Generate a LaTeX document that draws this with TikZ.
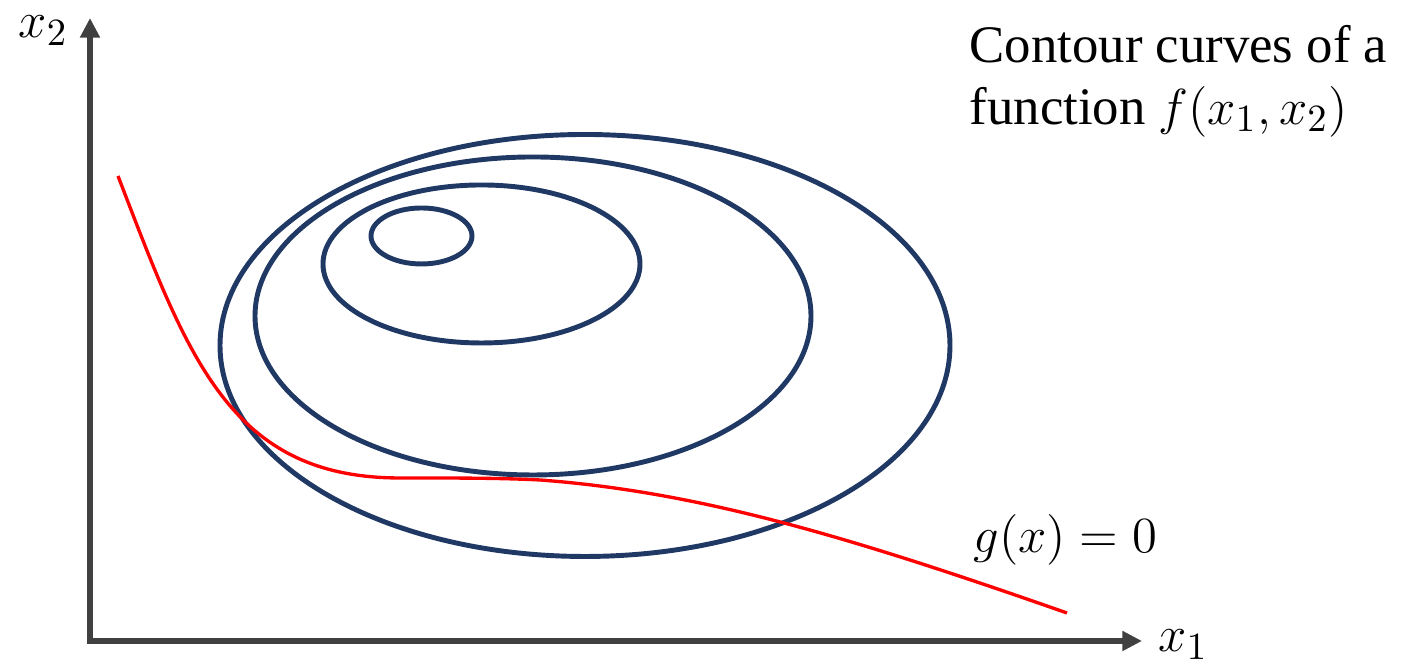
\documentclass[tikz,border=0pt]{standalone}
\usepackage{fontspec}
\setmainfont{Liberation Serif}
\usetikzlibrary{arrows.meta,positioning}
\definecolor{navy}{HTML}{203864}
\definecolor{axisgray}{HTML}{404040}

\begin{document}
\begin{tikzpicture}[x=0.01cm,y=0.01cm,axis/.style={draw=axisgray,line width=1.45pt,{Triangle[length=5.6pt,width=5.4pt]}-{Triangle[length=5.6pt,width=5.4pt]}},contour/.style={draw=navy,line width=1.4pt},gline/.style={draw=red,line width=0.95pt},lbl/.style={inner sep=0pt,font=\fontsize{15}{17.4}\selectfont}]
\useasboundingbox (0,0) rectangle (1402,662);
% axes
\coordinate (O) at (90,21);
\coordinate (xend) at (1142,21);
\coordinate (yend) at (90,644);
\draw[axis] (yend) |- (xend);
\node[lbl,anchor=base west] (xone) at (1158,10) {$x_1$};
\node[lbl,anchor=base west] (xtwo) at (18,624) {$x_2$};
% contour curves of f
\draw[contour] (585,316.5) ellipse [x radius=365,y radius=211];
\draw[contour] (533,346) ellipse [x radius=278,y radius=159];
\draw[contour] (481.5,398) ellipse [x radius=158.5,y radius=79];
\draw[contour] (421.5,426) ellipse [x radius=50.5,y radius=28];
% constraint g(x)=0
\coordinate (gstart) at (118,486);
\coordinate (gflat) at (400,184);
\coordinate (gknee) at (540,182);
\coordinate (gend) at (1067,49);
\draw[gline] (gstart) .. controls (188,304) and (230,184) .. (gflat)
  .. controls (460,184) and (500,184) .. (gknee)
  .. controls (700,170) and (850,125) .. (gend);
\node[lbl,anchor=base west] (gx) at (973,109) {$g(x)=0$};
\node[lbl,align=left,anchor=north west] (title) at (969,637) {Contour curves of a\\function $f(x_1,x_2)$};
\end{tikzpicture}
\end{document}
